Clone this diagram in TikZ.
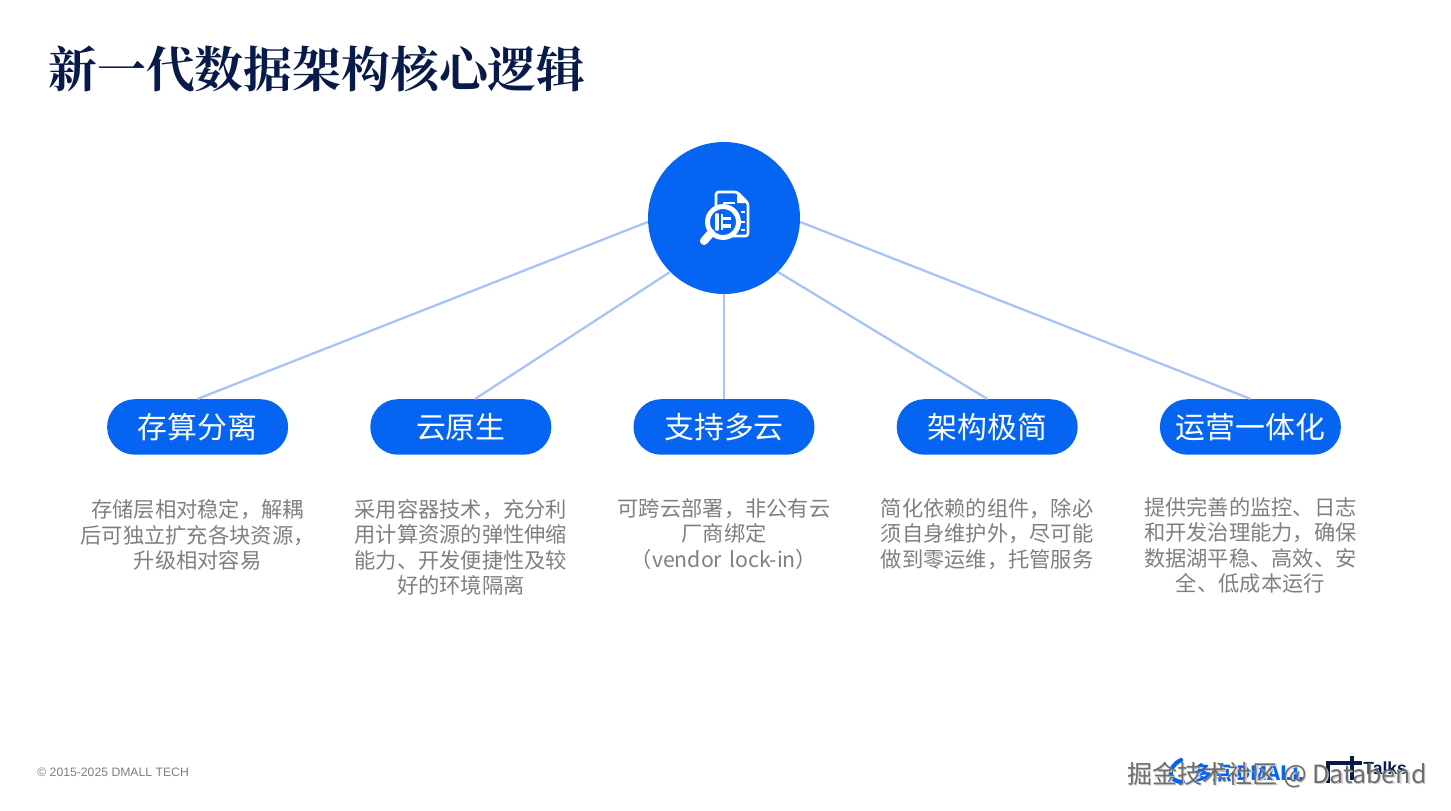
\documentclass[tikz,border=0pt]{standalone}
\usepackage{fontspec}
\setmainfont{Noto Sans CJK SC}
\newfontfamily\footfont{Liberation Sans}
\newfontfamily\titlefont{Noto Serif CJK SC}
\usepackage{tikz}
\definecolor{hubblue}{HTML}{0565F2}
\definecolor{linkblue}{HTML}{A6C4F8}
\definecolor{titlenavy}{HTML}{071A4A}
\definecolor{bodygray}{HTML}{7F7F7F}
\definecolor{footgray}{HTML}{77808E}
\definecolor{markgray}{HTML}{6E6E6E}
\definecolor{shadowgray}{HTML}{D2D2D2}
\tikzstyle{hubnode} = [circle, minimum size=3.04cm, inner sep=0pt, fill=hubblue]
\tikzstyle{pill} = [rectangle, rounded corners=0.55cm, minimum width=3.62cm, minimum height=1.11cm, inner sep=0pt, text=white, fill=hubblue, font=\fontsize{17}{20}\selectfont]
\tikzstyle{body} = [text width=5cm, align=center, inner sep=0pt, text=bodygray, font=\fontsize{12.1}{14.55}\selectfont]
\tikzstyle{link} = [line width=1.3pt, draw=linkblue]
\tikzstyle{bar} = [white, line width=1.5pt]

\begin{document}
\begin{tikzpicture}[x=0.02cm, y=-0.02cm, node distance=5.265cm]

\useasboundingbox (0,0) rectangle (1451,811);

\node (title) [anchor=west, inner sep=0pt, text=titlenavy, font=\titlefont\fontsize{27.8}{32}\selectfont\bfseries] at (48,70) {新一代数据架构核心逻辑};

\node (hub) [hubnode] at (724,218) {};
\node (pill3) [pill, below of=hub, node distance=4.18cm] {支持多云};
\node (pill2) [pill, left of=pill3] {云原生};
\node (pill1) [pill, left of=pill2] {存算分离};
\node (pill4) [pill, right of=pill3] {架构极简};
\node (pill5) [pill, right of=pill4] {运营一体化};

\node (text1) [body, below of=pill1, node distance=2.16cm] {存储层相对稳定，解耦\\后可独立扩充各块资源，\\升级相对容易};
\node (text2) [body, below of=pill2, node distance=2.41cm] {采用容器技术，充分利\\用计算资源的弹性伸缩\\能力、开发便捷性及较\\好的环境隔离};
\node (text3) [body, below of=pill3, node distance=2.14cm] {可跨云部署，非公有云\\厂商绑定\\（vendor lock-in）};
\node (text4) [body, below of=pill4, node distance=2.14cm] {简化依赖的组件，除必\\须自身维护外，尽可能\\做到零运维，托管服务};
\node (text5) [body, below of=pill5, node distance=2.37cm] {提供完善的监控、日志\\和开发治理能力，确保\\数据湖平稳、高效、安\\全、低成本运行};

\draw [link] (hub.183) -- (pill1.north);
\draw [link] (hub.south west) -- (pill2.63);
\draw [link] (hub.south) -- (pill3.north);
\draw [link] (hub.south east) -- (pill4.north);
\draw [link] (hub.-3) -- (pill5.north);

% icon
\draw [bar, rounded corners=1.5pt] (716,212) -- (716,192) -- (737,192) -- (748,203) -- (748,236) -- (730,236);
\fill [white] (737,192) -- (748,203) -- (737,203) -- cycle;
\draw [bar] (723,203) -- (735,203);
\draw [bar] (741,212) -- (745,212);
\draw [bar] (741,222) -- (745,222);
\draw [bar] (741,230) -- (745,230);
\draw [white, line width=2.8pt, fill=hubblue] (723,222) circle (15.5);
\draw [white, line width=4.6pt, line cap=round] (711,233) -- (704,241);
\draw [white, line width=2.2pt, line cap=round] (717,215) -- (717,229);
\fill [white] (721,214) rectangle (723,230);
\fill [white] (723,216.5) rectangle (731,220);
\fill [white] (723,224) rectangle (731,227.5);

% footer
\node (copyright) [anchor=west, inner sep=0pt, text=footgray, font=\footfont\fontsize{6.95}{8}\selectfont] at (37,772) {© 2015-2025 DMALL TECH};

% logos
\draw [hubblue, line width=2.4pt, line cap=round] (1181,760) .. controls (1166,768) and (1168,782) .. (1183,782);
\node (logo) [anchor=west, inner sep=0pt, text=hubblue, font=\fontsize{11.2}{13}\selectfont\bfseries] at (1192,773) {多点 DMALL};
\draw [titlenavy, line width=2.2pt] (1328,783) -- (1328,763) -- (1345,763);
\draw [titlenavy, line width=2.2pt] (1352,756) -- (1352,780);
\draw [titlenavy, line width=2.2pt] (1345,763) -- (1362,763);
\node (talks) [anchor=west, inner sep=0pt, text=titlenavy, font=\footfont\fontsize{10}{12}\selectfont\bfseries] at (1363,768) {Talks};

% watermark
\node (shadow) [anchor=west, inner sep=0pt, text=shadowgray, font=\fontsize{14.25}{17}\selectfont] at (1128.5,776) {掘金技术社区 @ Databend};
\node (mark) [anchor=west, inner sep=0pt, text=markgray, font=\fontsize{14.25}{17}\selectfont] at (1127,775) {掘金技术社区 @ Databend};

\end{tikzpicture}
\end{document}
